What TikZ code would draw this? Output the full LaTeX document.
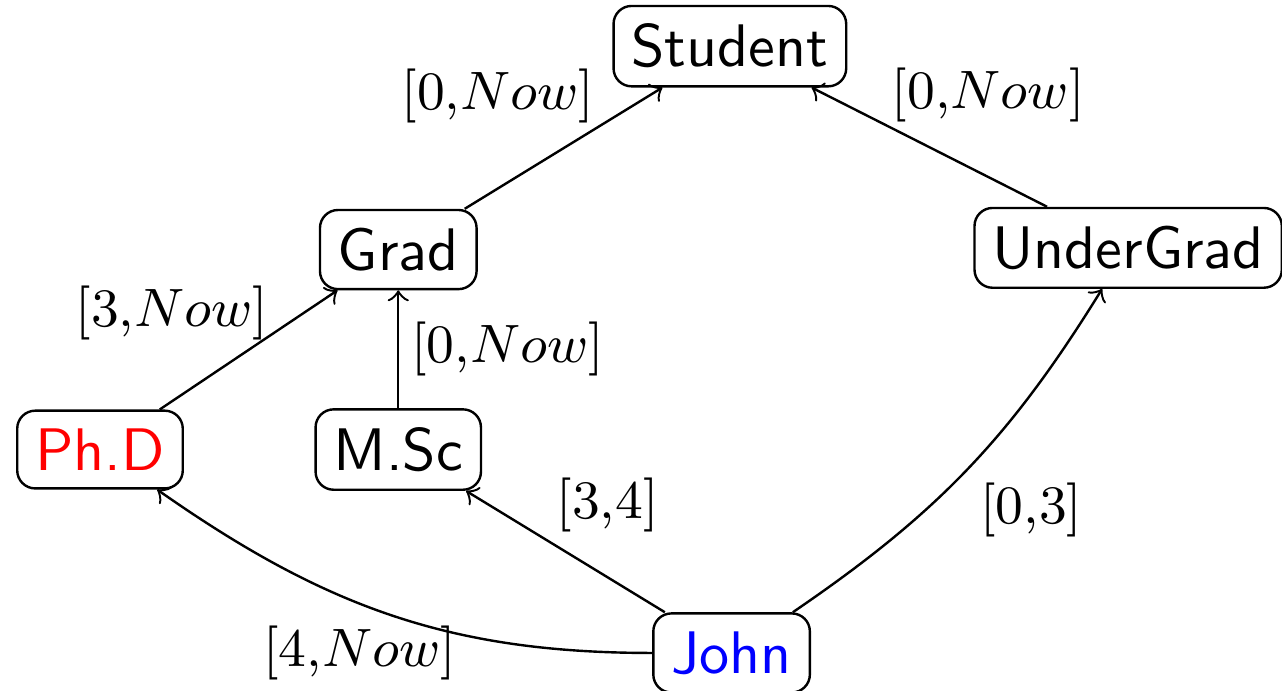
\documentclass[tikz,border=0pt]{standalone}
\usepackage{tikz}
\usetikzlibrary{arrows.meta, positioning}
\definecolor{phdRed}{HTML}{FF0000}
\definecolor{johnBlue}{HTML}{0000FF}

\begin{document}
\begin{tikzpicture}[
        x=1cm,
        y=1cm,
        >=to,
        font=\sffamily,
        cls/.style={rectangle, draw=black, line width=0.4pt, fill=white,
                    rounded corners=3pt, align=center, inner sep=3pt},
        inst/.style={cls, text=johnBlue},
        leaf/.style={cls, text=phdRed},
        arrow/.style={->, draw=black, line width=0.4pt},
        lbl/.style={font=\rmfamily\small, inner sep=2pt}
    ]
    \useasboundingbox (0,0) rectangle (7.50,4.04);

    % Class hierarchy
    \node[cls]  (student) at (4.27, 3.77) {Student};
    \node[cls]  (grad)    at (2.33, 2.58) {Grad};
    \node[cls]  (under)   at (6.60, 2.59) {UnderGrad};
    \node[leaf] (phd)     at (0.585,1.41) {Ph.D};
    \node[cls]  (msc)     at (2.33, 1.41) {M.Sc};
    \node[inst] (john)    at (4.28, 0.22) {John};

    % Subclass links
    \draw[arrow] (grad) -- (student)
        node[pos=0.6, above left, xshift=4pt, lbl]{[0,$Now$]};
    \draw[arrow] (under) -- (student)
        node[pos=0.6, above right, xshift=-4.5pt, lbl]{[0,$Now$]};
    \draw[arrow] (phd) -- (grad)
        node[pos=0.6, above left, xshift=2.5pt, yshift=-2.5pt, lbl]{[3,$Now$]};
    \draw[arrow] (msc) -- (grad)
        node[pos=0.5, right, lbl]{[0,$Now$]};

    % Membership of John
    \draw[arrow] (john) -- (msc)
        node[pos=0.55, above right, xshift=-2pt, lbl]{[3,4]};
    \draw[arrow] (john) to[bend right=12]
        node[pos=0.5, below right, lbl]{[0,3]} (under);
    \draw[arrow] (john.west) to[out=180, in=-35]
        node[pos=0.6, below, xshift=2.5pt, yshift=-2.5pt, lbl]{[4,$Now$]} (phd);

\end{tikzpicture}
\end{document}
